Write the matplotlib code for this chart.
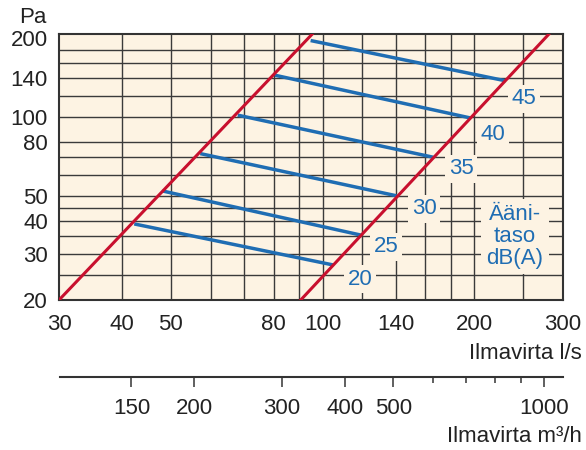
import matplotlib
matplotlib.use('Agg')
import matplotlib.pyplot as plt
from matplotlib.ticker import FixedLocator, NullFormatter, NullLocator

plt.rcParams['font.family'] = ['Liberation Sans', 'DejaVu Sans']

# axis ticks and grid (l/s and Pa)
x_ticks = [30, 40, 50, 80, 100, 140, 200, 300]
y_ticks = [20, 30, 40, 50, 80, 100, 140, 200]
x_grid = [40, 50, 60, 70, 80, 90, 100, 120, 140, 160, 180, 200, 250]
y_grid = [25, 30, 35, 40, 45, 50, 60, 70, 80, 100, 120, 140, 160, 180]

# secondary axis in m3/h
m3h_major = [150, 200, 300, 400, 500, 1000]
m3h_minor = [600, 700, 800, 900]

# red limit lines (l/s, Pa)
red_left_q = [30, 95.3]
red_left_p = [20, 206]
red_right_q = [90.5, 281]
red_right_p = [20, 206]

# sound level lines dB(A)
levels = [20, 25, 30, 35, 40, 45]
start_q = [42.3, 48.1, 57.2, 67.9, 80.5, 94.7]
start_p = [39.0, 52.1, 72.3, 101.3, 143.8, 195]
end_q = [105.0, 119.6, 140.3, 165.9, 196.2, 230.9]
end_p = [27.2, 35.3, 49.9, 70.0, 98.9, 136.9]
label_q = [118.6, 133.7, 159, 188.3, 218.2, 251.4]
label_p = [24.0, 31.9, 44.5, 63.2, 85.2, 116.9]

bg = '#fdf3e3'
red = '#c8102e'
blue = '#1f6db3'
dark = '#222222'
fs = 16

fig = plt.figure(figsize=(5.86, 4.5), dpi=100)
ax = fig.add_axes([0.1007, 0.3333, 0.8601, 0.5905])
ax.set_facecolor(bg)
ax.set_xscale('log')
ax.set_yscale('log')
ax.set_xlim(30, 300)
ax.set_ylim(20, 206)

for g in x_grid:
    ax.axvline(g, color='#3a3a3a', lw=1.0, zorder=1)
for g in y_grid:
    ax.axhline(g, color='#3a3a3a', lw=1.0, zorder=1)

ax.xaxis.set_major_locator(FixedLocator(x_ticks))
ax.xaxis.set_minor_locator(NullLocator())
ax.set_xticklabels([str(v) for v in x_ticks])
ax.yaxis.set_major_locator(FixedLocator(y_ticks))
ax.yaxis.set_minor_locator(NullLocator())
ax.set_yticklabels([str(v) for v in y_ticks])
ax.tick_params(length=0, labelsize=fs, colors=dark)
ax.tick_params(axis='x', pad=10)
ax.tick_params(axis='y', pad=8)
for s in ax.spines.values():
    s.set_color('#333333')
    s.set_linewidth(1.5)

ax.plot(red_left_q, red_left_p, color=red, lw=2.2, zorder=3)
ax.plot(red_right_q, red_right_p, color=red, lw=2.2, zorder=3)

for i, lv in enumerate(levels):
    ax.plot([start_q[i], end_q[i]], [start_p[i], end_p[i]], color=blue, lw=2.5,
            solid_capstyle='butt', zorder=2)
    ax.text(label_q[i], label_p[i], str(lv), color=blue, fontsize=fs,
            ha='center', va='center', zorder=4,
            bbox=dict(facecolor=bg, edgecolor='none', pad=2.5))

ax.text(240.9, 34.9, 'Ääni-\ntaso\ndB(A)', color=blue, fontsize=fs,
        ha='center', va='center', linespacing=1.05, zorder=4,
        bbox=dict(facecolor=bg, edgecolor='none', pad=4))

ax.text(-0.025, 1.065, 'Pa', transform=ax.transAxes, fontsize=fs, color=dark,
        ha='right', va='center')

fig.text(0.993, 0.215, 'Ilmavirta l/s', fontsize=fs, color=dark, ha='right', va='center')

# secondary axis in m3/h
ax2 = fig.add_axes([0.1024, 0.1616, 0.858, 0.0001])
ax2.set_xscale('log')
ax2.set_xlim(30 * 3.6, 300 * 3.6 * 1.01)
ax2.patch.set_visible(False)
for k in ['top', 'left', 'right']:
    ax2.spines[k].set_visible(False)
ax2.spines['bottom'].set_color('#333333')
ax2.spines['bottom'].set_linewidth(1.5)
ax2.yaxis.set_major_locator(NullLocator())
ax2.xaxis.set_major_locator(FixedLocator(m3h_major))
ax2.xaxis.set_minor_locator(FixedLocator(m3h_minor))
ax2.xaxis.set_minor_formatter(NullFormatter())
ax2.set_xticklabels([str(v) for v in m3h_major])
ax2.tick_params(axis='x', which='major', length=7, width=1.2, color='#444444',
                labelsize=fs, labelcolor=dark, pad=8)
ax2.tick_params(axis='x', which='minor', length=4, width=1.2, color='#444444')

fig.text(0.993, 0.03, 'Ilmavirta m³/h', fontsize=fs, color=dark, ha='right', va='center')

fig.savefig('out.png', dpi=100)
